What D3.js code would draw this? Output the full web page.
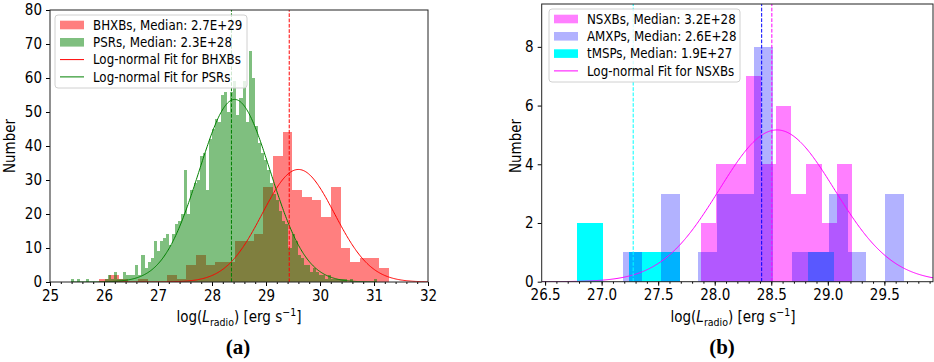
<!DOCTYPE html>
<html>
<head>
<meta charset="utf-8">
<script src="https://cdn.jsdelivr.net/npm/d3@7"></script>
<style>
  body { margin: 0; background: #fff; }
  text { font-family: "DejaVu Sans Condensed", "DejaVu Sans", sans-serif; fill: #000; }
</style>
</head>
<body>
<svg id="chart" width="934" height="362"></svg>
<script>
// ---- panel (a): BHXBs vs PSRs, counts per bin ----
var bhxbStart = 25.915, bhxbWidth = 0.1787;
var bhxbCounts = [1,2,1,0,1,0,0,2,1,5,
                  8,5,6,6,12,12,14,28,37,44,
                  27,25,24,19,28,10,6,7,7,4];
var psrStart = 25.39, psrWidth = 0.0567;
var psrCounts = [1,0,1,0,0,1,0,0,0,0,
                 0,1,2,1,3,1,1,3,2,2,
                 2,5,2,8,4,6,7,12,9,12,
                 13,14,11,14,17,18,20,33,20,27,
                 29,30,37,38,27,42,45,48,47,55,
                 56,50,56,59,49,54,59,47,68,60,
                 46,41,38,36,33,29,26,24,21,18,
                 17,10,14,12,8,7,5,5,3,4,
                 3,2,2,1,2,1,1,1,1,1,
                 0,1,0,0,0,0,0,0,0,1];
var bhxbMedian = 29.43, psrMedian = 28.36;
var bhxbFit = {mu: 29.6, sigma: 0.67, peak: 33.1};
var psrFit = {mu: 28.42, sigma: 0.66, peak: 53.7};
var aTicks = [25, 26, 27, 28, 29, 30, 31, 32];
var aYTicks = [0, 10, 20, 30, 40, 50, 60, 70, 80];
var aLegend = ["BHXBs, Median: 2.7E+29", "PSRs, Median: 2.3E+28",
               "Log-normal Fit for BHXBs", "Log-normal Fit for PSRs"];

// ---- panel (b): NSXBs, AMXPs, tMSPs ----
var tmspStart = 26.786, tmspWidth = 0.2266;
var tmspCounts = [2,0,1,1,0,0,0,0,0,1];
var amxpStart = 27.193, amxpWidth = 0.1652;
var amxpCounts = [1,0,3,0,1,3,3,8,0,1,1,3,1,0,3];
var nsxbStart = 27.878, nsxbWidth = 0.1333;
var nsxbCounts = [2,4,4,7,4,6,3,4,2,4];
var nsxbMedian = 28.505, amxpMedian = 28.415, tmspMedian = 27.279;
var nsxbFit = {mu: 28.55, sigma: 0.51, peak: 5.17};
var bTicks = [26.5, 27.0, 27.5, 28.0, 28.5, 29.0, 29.5];
var bYTicks = [0, 2, 4, 6, 8];
var bLegend = ["NSXBs, Median: 3.2E+28", "AMXPs, Median: 2.6E+28",
               "tMSPs, Median: 1.9E+27", "Log-normal Fit for NSXBs"];

var svg = d3.select("#chart");

function histBars(g, x, y, start, width, counts, color, opacity) {
  g.append("g").selectAll("rect")
    .data(counts).enter()
    .append("rect")
    .attr("x", function(d, i) { return Math.round(x(start + i * width)); })
    .attr("width", function(d, i) {
      return Math.round(x(start + (i + 1) * width)) - Math.round(x(start + i * width));
    })
    .attr("y", function(d) { return y(d); })
    .attr("height", function(d) { return y(0) - y(d); })
    .attr("fill", color)
    .attr("fill-opacity", opacity)
    .attr("shape-rendering", "crispEdges");
}

function fitLine(g, x, y, fit, lo, hi, color) {
  var pts = d3.range(0, 401).map(function(i) { return lo + (hi - lo) * i / 400; });
  var line = d3.line()
    .x(function(d) { return x(d); })
    .y(function(d) {
      return y(fit.peak * Math.exp(-Math.pow(d - fit.mu, 2) / (2 * fit.sigma * fit.sigma)));
    });
  g.append("path").datum(pts)
    .attr("d", line)
    .attr("fill", "none")
    .attr("stroke", color)
    .attr("stroke-width", 1);
}

function medianLine(g, x, y, v, color) {
  g.append("line")
    .attr("x1", x(v)).attr("x2", x(v))
    .attr("y1", y.range()[0]).attr("y2", y.range()[1])
    .attr("stroke", color)
    .attr("stroke-width", 1)
    .attr("stroke-dasharray", "3.7,1.6");
}

function frame(g, x, y, xt, xMinor, yt, fmt) {
  var x0 = x.range()[0], x1 = x.range()[1], y0 = y.range()[0], y1 = y.range()[1];

  var minor = g.append("g").attr("transform", "translate(0," + y0 + ")")
    .call(d3.axisBottom(x).tickValues(xMinor).tickSize(2).tickFormat(""));
  minor.select(".domain").remove();

  var xa = g.append("g").attr("transform", "translate(0," + y0 + ")")
    .call(d3.axisBottom(x).tickValues(xt).tickSize(4).tickPadding(4).tickFormat(fmt));
  xa.select(".domain").remove();
  xa.selectAll("text").style("font-size", "15px");

  var ya = g.append("g").attr("transform", "translate(" + x0 + ",0)")
    .call(d3.axisLeft(y).tickValues(yt).tickSize(4).tickPadding(4).tickFormat(d3.format("d")));
  ya.select(".domain").remove();
  ya.selectAll("text").style("font-size", "15px");

  g.append("rect")
    .attr("x", x0).attr("y", y1)
    .attr("width", x1 - x0).attr("height", y0 - y1)
    .attr("fill", "none").attr("stroke", "#222").attr("stroke-width", 1);
}

function xLabel(g, cx) {
  var t = g.append("text").attr("x", cx).attr("y", 322)
    .attr("text-anchor", "middle").style("font-size", "15px");
  t.append("tspan").text("log(");
  t.append("tspan").style("font-style", "italic").text("L");
  t.append("tspan").attr("dy", 4).style("font-size", "10.5px").text("radio");
  t.append("tspan").attr("dy", -4).text(") [erg s");
  t.append("tspan").attr("dy", -6).style("font-size", "10.5px").text("\u22121");
  t.append("tspan").attr("dy", 6).text("]");
}

function yLabel(g, cx) {
  g.append("text")
    .attr("transform", "translate(" + cx + ",146) rotate(-90)")
    .attr("text-anchor", "middle")
    .style("font-size", "15px")
    .text("Number");
}

function legend(g, box, rows, labels, styles) {
  g.append("rect")
    .attr("x", box[0]).attr("y", box[1]).attr("width", box[2]).attr("height", box[3])
    .attr("rx", 3).attr("fill", "#fff").attr("fill-opacity", 0.8)
    .attr("stroke", "#d0d0d0").attr("stroke-width", 1);
  labels.forEach(function(lab, i) {
    var cy = rows[i], s = styles[i], px = box[0] + 5;
    if (s.type === "patch") {
      g.append("rect").attr("x", px).attr("y", cy - 4.3).attr("width", 24).attr("height", 8.6)
        .attr("fill", s.color).attr("fill-opacity", s.opacity);
    } else {
      g.append("line").attr("x1", px).attr("x2", px + 24).attr("y1", cy).attr("y2", cy)
        .attr("stroke", s.color).attr("stroke-width", 1);
    }
    g.append("text").attr("x", px + 33).attr("y", cy).attr("dy", "0.36em")
      .style("font-size", "13.2px").text(lab);
  });
}

// ================= panel (a) =================
var xa = d3.scaleLinear().domain([25, 32]).range([50, 428]);
var ya = d3.scaleLinear().domain([0, 80]).range([282, 10]);
var ga = svg.append("g");
ga.append("clipPath").attr("id", "clipA").append("rect")
  .attr("x", 50).attr("y", 10).attr("width", 378).attr("height", 272);
var pa = ga.append("g").attr("clip-path", "url(#clipA)");

histBars(pa, xa, ya, bhxbStart, bhxbWidth, bhxbCounts, "#ff0000", 0.5);
histBars(pa, xa, ya, psrStart, psrWidth, psrCounts, "#008000", 0.5);
fitLine(pa, xa, ya, bhxbFit, 25.9, 32, "#ff0000");
fitLine(pa, xa, ya, psrFit, 25.39, 31.05, "#008000");
medianLine(pa, xa, ya, bhxbMedian, "#ff0000");
medianLine(pa, xa, ya, psrMedian, "#008000");

frame(ga, xa, ya, aTicks, d3.range(0, 36).map(function(i) { return 25 + i * 0.2; }),
      aYTicks, d3.format("d"));
legend(ga, [55, 15, 192, 73], [25, 42.3, 59.6, 76.9], aLegend, [
  {type: "patch", color: "#ff0000", opacity: 0.5},
  {type: "patch", color: "#008000", opacity: 0.5},
  {type: "line", color: "#ff0000"},
  {type: "line", color: "#008000"}
]);
xLabel(ga, 239);
yLabel(ga, 15);
ga.append("text").attr("x", 238).attr("y", 354).attr("text-anchor", "middle")
  .style("font-family", "'Liberation Serif', serif").style("font-weight", "bold")
  .style("font-size", "21px").text("(a)");

// ================= panel (b) =================
var xb = d3.scaleLinear().domain([26.47, 29.93]).range([541.7, 933]);
var yb = d3.scaleLinear().domain([0, 9.46]).range([281.7, 4]);
var gb = svg.append("g");
gb.append("clipPath").attr("id", "clipB").append("rect")
  .attr("x", 541.7).attr("y", 4).attr("width", 391.3).attr("height", 277.7);
var pb = gb.append("g").attr("clip-path", "url(#clipB)");

histBars(pb, xb, yb, tmspStart, tmspWidth, tmspCounts, "#00ffff", 1);
histBars(pb, xb, yb, nsxbStart, nsxbWidth, nsxbCounts, "#ff00ff", 0.5);
histBars(pb, xb, yb, amxpStart, amxpWidth, amxpCounts, "#0000ff", 0.3);
fitLine(pb, xb, yb, nsxbFit, 26.47, 29.93, "#ff00ff");
medianLine(pb, xb, yb, nsxbMedian, "#ff00ff");
medianLine(pb, xb, yb, amxpMedian, "#0000ff");
medianLine(pb, xb, yb, tmspMedian, "#00ffff");

frame(gb, xb, yb, bTicks, d3.range(0, 35).map(function(i) { return 26.5 + i * 0.1; }),
      bYTicks, d3.format(".1f"));
legend(gb, [549, 9, 191, 73], [19, 36.3, 53.6, 70.9], bLegend, [
  {type: "patch", color: "#ff00ff", opacity: 0.5},
  {type: "patch", color: "#0000ff", opacity: 0.3},
  {type: "patch", color: "#00ffff", opacity: 1},
  {type: "line", color: "#ff00ff"}
]);
xLabel(gb, 733);
yLabel(gb, 521);
gb.append("text").attr("x", 722).attr("y", 354).attr("text-anchor", "middle")
  .style("font-family", "'Liberation Serif', serif").style("font-weight", "bold")
  .style("font-size", "21px").text("(b)");
</script>
</body>
</html>
